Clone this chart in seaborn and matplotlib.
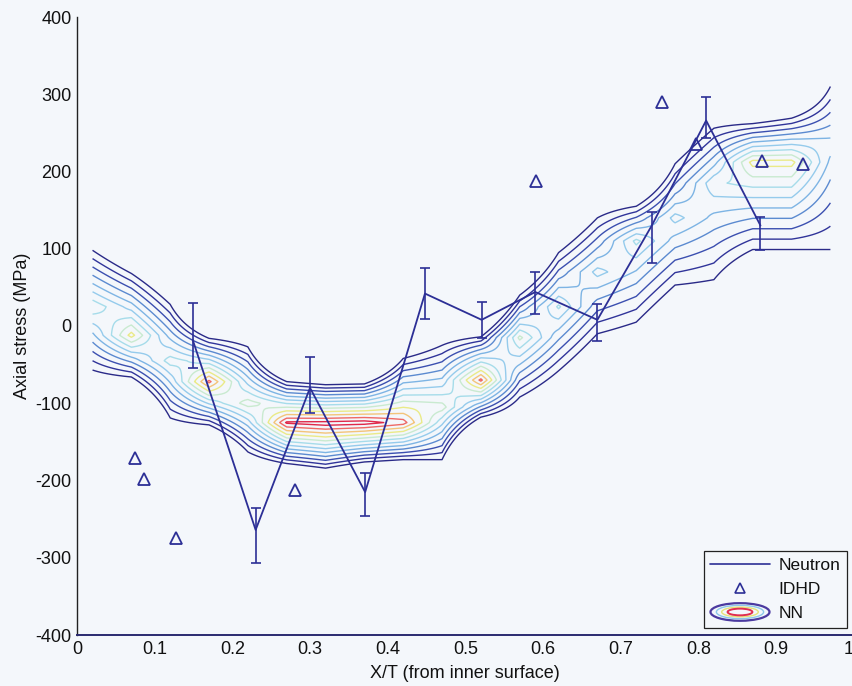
import numpy as np
import pandas as pd
import matplotlib
matplotlib.use("Agg")
import matplotlib.pyplot as plt
import seaborn as sns
from matplotlib.patches import Ellipse
from matplotlib.legend_handler import HandlerBase
from matplotlib.lines import Line2D

# ---------------- data ----------------
# Neutron measurements (x/T, stress, lower/upper error)
neutron_x = [0.149, 0.230, 0.300, 0.371, 0.448, 0.521, 0.590, 0.670, 0.740, 0.810, 0.880]
neutron_y = [-18, -264, -80, -215, 42, 8, 44, 8, 130, 266, 130]
neutron_err_lo = [37, 43, 33, 31, 33, 24, 28, 28, 48, 23, 31]
neutron_err_hi = [48, 29, 40, 25, 33, 23, 26, 21, 18, 30, 11]

# IDHD measurements
idhd_x = [0.075, 0.086, 0.127, 0.281, 0.591, 0.753, 0.797, 0.882, 0.935]
idhd_y = [-171, -198, -275, -212, 188, 290, 236, 213, 210]

# NN prediction band: per column centre, peak level, upper and lower outer edge
nn_x = [0.02, 0.07, 0.12, 0.17, 0.22, 0.27, 0.32, 0.37, 0.42, 0.47,
        0.52, 0.57, 0.62, 0.67, 0.72, 0.77, 0.82, 0.87, 0.92, 0.97]
nn_center = [25, -12, -45, -72, -100, -125, -126, -125, -125, -105,
             -70, -15, 25, 70, 110, 140, 185, 212, 212, 235]
nn_peak = [7.8, 9.4, 7.5, 11.3, 8.5, 12.2, 12.5, 12.5, 11.5, 8.5,
           11.3, 8.3, 7.2, 6.4, 7.3, 6.4, 6.8, 9.4, 9.4, 5.5]
nn_upper = [98, 68, 28, -16, -27, -72, -76, -75, -42, -25,
            -14, 40, 95, 140, 155, 210, 256, 262, 269, 310]
nn_lower = [-57, -66, -119, -128, -163, -178, -184, -176, -173, -173,
            -118, -92, -58, -10, 5, 53, 60, 99, 99, 99]

nn_levels = [1, 2, 3, 4, 5, 6, 7, 8, 9, 10, 11, 12]
nn_colors = ["#2a2a88", "#30349a", "#3b4fb0", "#5b8ad0", "#7db4e4", "#95cbec",
             "#a6dcea", "#c9ead0", "#eaea88", "#f3c47a", "#ee6a66", "#e0284a"]

x_ticks = [0, 0.1, 0.2, 0.3, 0.4, 0.5, 0.6, 0.7, 0.8, 0.9, 1]
x_tick_labels = ["0", "0.1", "0.2", "0.3", "0.4", "0.5", "0.6", "0.7", "0.8", "0.9", "1"]
y_ticks = [-400, -300, -200, -100, 0, 100, 200, 300, 400]

# ---------------- style ----------------
sns.set_theme(style="white")
plt.rcParams["font.family"] = ["Liberation Sans", "DejaVu Sans"]
plt.rcParams["axes.unicode_minus"] = False
plt.rcParams["text.color"] = "#111111"
bg = "#f4f7fb"
navy = "#2c2f96"

fig = plt.figure(figsize=(8.52, 6.86), dpi=100, facecolor=bg)
W, H = 852, 686
ax = fig.add_axes([77 / W, 51 / H, (853.7 - 77) / W, (635 - 17) / H])
ax.set_facecolor(bg)

# NN contour field from per-column band description
yy = np.arange(-320, 401, 1.0)
Z = np.empty((len(yy), len(nn_x)))
for j in range(len(nn_x)):
    mu, P = nn_center[j], nn_peak[j]
    s_up = (nn_upper[j] - mu) / (P - 1)
    s_lo = (mu - nn_lower[j]) / (P - 1)
    d = yy - mu
    Z[:, j] = P - np.where(d > 0, d / s_up, -d / s_lo)
XX, YY = np.meshgrid(nn_x, yy)
ax.contour(XX, YY, Z, levels=nn_levels, colors=nn_colors, linewidths=1.0)

# Neutron line + error bars
df_n = pd.DataFrame({"x": neutron_x, "y": neutron_y})
sns.lineplot(data=df_n, x="x", y="y", ax=ax, color=navy, lw=1.3,
             estimator=None, sort=False, legend=False)
ax.errorbar(neutron_x, neutron_y, yerr=[neutron_err_lo, neutron_err_hi],
            fmt="none", ecolor=navy, elinewidth=1.2, capsize=3.3, capthick=1.2)

# IDHD triangles
df_i = pd.DataFrame({"x": idhd_x, "y": idhd_y})
ax.plot(df_i["x"], df_i["y"], linestyle="none", marker="^", ms=8,
        mfc="none", mec=navy, mew=1.3)

# axes
ax.set_xlim(0, 1)
ax.set_ylim(-400, 400)
ax.set_xticks(x_ticks)
ax.set_xticklabels(x_tick_labels)
ax.set_yticks(y_ticks)
ax.tick_params(direction="in", length=5, width=0.8, labelsize=13,
               colors="#111111", pad=4)
ax.get_xticklabels()[-1].set_horizontalalignment("right")
for s in ["top", "right"]:
    ax.spines[s].set_visible(False)
ax.spines["left"].set_color("#222222")
ax.spines["bottom"].set_color("#2a2a70")
ax.spines["left"].set_linewidth(1.0)
ax.spines["bottom"].set_linewidth(1.4)
ax.set_xlabel("X/T (from inner surface)", fontsize=13, labelpad=5, color="#111111")
ax.set_ylabel("Axial stress (MPa)", fontsize=13, labelpad=3, color="#111111")


# legend with custom NN icon
class NNHandle:
    pass


class HandlerNN(HandlerBase):
    def create_artists(self, legend, orig_handle, xdescent, ydescent,
                       width, height, fontsize, trans):
        cx = width / 2 - xdescent
        cy = height / 2 - ydescent
        arts = []
        spec = [(1.0, 1.45, "#4b3aa0", 1.6), (0.8, 1.1, "#8cc8ea", 1.0),
                (0.62, 0.8, "#e6e27a", 1.0), (0.42, 0.55, "#e03050", 1.4)]
        for fw, fh, c, lw in spec:
            e = Ellipse((cx, cy), width * fw, height * fh, fill=False,
                        edgecolor=c, lw=lw, transform=trans)
            arts.append(e)
        return arts


h_neu = Line2D([], [], color=navy, lw=1.2)
h_idhd = Line2D([], [], color=navy, lw=0, marker="^", ms=7, mfc="none", mew=1.2)
h_nn = NNHandle()
leg = ax.legend([h_neu, h_idhd, h_nn], ["Neutron", "IDHD", "NN"],
                handler_map={NNHandle: HandlerNN()},
                loc="lower right", bbox_to_anchor=(847 / W, (686 - 628) / H),
                bbox_transform=fig.transFigure, borderaxespad=0,
                fontsize=12.5, handlelength=3.4, handletextpad=0.5,
                borderpad=0.4, labelspacing=0.5, fancybox=False,
                framealpha=1, facecolor=bg, edgecolor="#222222")
leg.get_frame().set_linewidth(0.9)
for t in leg.get_texts():
    t.set_color("#111111")

fig.savefig("out.png", dpi=100, facecolor=bg)
